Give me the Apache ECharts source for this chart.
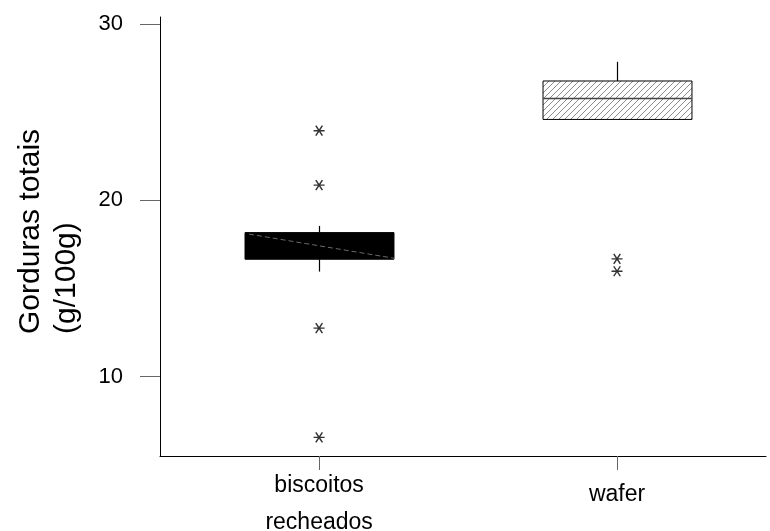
<!DOCTYPE html>
<html>
<head>
<meta charset="utf-8">
<script src="https://cdn.jsdelivr.net/npm/echarts@6.0.0/dist/echarts.min.js"></script>
<style>
  html, body { margin: 0; padding: 0; background: #fff; }
  #chart { width: 770px; height: 531px; }
</style>
</head>
<body>
<div id="chart"></div>
<script>
// Total fat (g/100g) by product type
const categories = ['biscoitos\nrecheados', 'wafer'];
const whiskerLow  = [15.96, 24.59];
const quartile1   = [16.66, 24.59];
const medians     = [17.40, 25.78];
const quartile3   = [18.17, 26.77];
const whiskerHigh = [18.55, 27.86];
const outliersBiscoitos = [23.95, 20.86, 12.75, 6.56];
const outliersWafer     = [16.68, 15.98];
const yTicks = [10, 20, 30];

const FONT = '"Liberation Sans", Arial, Helvetica, sans-serif';
const BOX_HALF = 0.25; // half box width in axis units

// diagonal hatch tile for the wafer box
function hatchTile() {
  const c = document.createElement('canvas');
  c.width = 6; c.height = 6;
  const ctx = c.getContext('2d');
  ctx.fillStyle = '#ffffff';
  ctx.fillRect(0, 0, 6, 6);
  ctx.strokeStyle = '#8c8c8c';
  ctx.lineWidth = 1;
  ctx.beginPath();
  ctx.moveTo(0, 6); ctx.lineTo(6, 0);
  ctx.moveTo(-1, 1); ctx.lineTo(1, -1);
  ctx.moveTo(5, 7); ctx.lineTo(7, 5);
  ctx.stroke();
  return c;
}

const boxLooks = [
  { fill: '#000000', median: '#000000', diagonal: true },
  { fill: { image: hatchTile(), repeat: 'repeat' }, median: '#444444', diagonal: false }
];

const boxData = categories.map((c, i) =>
  [i + 1, whiskerLow[i], quartile1[i], medians[i], quartile3[i], whiskerHigh[i]]);

const outlierData = []
  .concat(outliersBiscoitos.map(v => [1, v]))
  .concat(outliersWafer.map(v => [2, v]));

function renderBox(params, api) {
  const i = params.dataIndex;
  const look = boxLooks[i];
  const x = api.value(0);
  const low = api.coord([x, api.value(1)]);
  const q1 = api.coord([x, api.value(2)]);
  const med = api.coord([x, api.value(3)]);
  const q3 = api.coord([x, api.value(4)]);
  const high = api.coord([x, api.value(5)]);
  const half = api.size([BOX_HALF, 0])[0];
  const cx = Math.round(q3[0]) + 0.5;
  const children = [];
  if (high[1] < q3[1] - 0.5) {
    children.push({ type: 'line', shape: { x1: cx, y1: q3[1], x2: cx, y2: high[1] },
      style: { stroke: '#000', lineWidth: 1.2 } });
  }
  if (low[1] > q1[1] + 0.5) {
    children.push({ type: 'line', shape: { x1: cx, y1: q1[1], x2: cx, y2: low[1] },
      style: { stroke: '#000', lineWidth: 1.2 } });
  }
  children.push({ type: 'rect',
    shape: { x: cx - half, y: q3[1], width: 2 * half, height: q1[1] - q3[1] },
    style: { fill: look.fill, stroke: '#000', lineWidth: 1 } });
  children.push({ type: 'line',
    shape: { x1: cx - half, y1: med[1], x2: cx + half, y2: med[1] },
    style: { stroke: look.median, lineWidth: 1.6 } });
  if (look.diagonal) {
    children.push({ type: 'line',
      shape: { x1: cx - half + 4, y1: q3[1] + 1.5, x2: cx + half, y2: q1[1] - 1 },
      style: { stroke: '#6a6a6a', lineWidth: 1, lineDash: [5, 3] } });
  }
  return { type: 'group', children };
}

const chart = echarts.init(document.getElementById('chart'), null, { renderer: 'canvas' });
chart.setOption({
  animation: false,
  backgroundColor: '#ffffff',
  grid: { left: 160, right: 4, top: 17, bottom: 75, containLabel: false, outerBoundsMode: 'none' },
  xAxis: {
    type: 'value',
    min: 0.466,
    max: 2.5,
    axisLine: { show: true, onZero: false, lineStyle: { color: '#000', width: 1 } },
    axisTick: { show: true, customValues: [1, 2], length: 14, lineStyle: { color: '#666', width: 1 } },
    axisLabel: {
      show: true,
      customValues: [1, 2],
      margin: 11,
      verticalAlign: 'top',
      formatter: v => {
        const name = categories[Math.round(v) - 1] || '';
        const tag = name.indexOf('\n') >= 0 ? 'b' : 'w';
        return name.split('\n').map(s => '{' + tag + '|' + s + '}').join('\n');
      },
      rich: {
        b: { fontSize: 23, lineHeight: 37, fontFamily: FONT, color: '#000' },
        w: { fontSize: 23, lineHeight: 56, fontFamily: FONT, color: '#000' }
      }
    },
    splitLine: { show: false }
  },
  yAxis: {
    type: 'value',
    min: 5.5,
    max: 30.4,
    axisLine: { show: true, onZero: false, lineStyle: { color: '#000', width: 1 } },
    axisTick: { show: true, customValues: yTicks, length: 20, lineStyle: { color: '#666', width: 1 } },
    axisLabel: { show: true, customValues: yTicks, margin: 37, fontSize: 22, fontFamily: FONT, color: '#000' },
    splitLine: { show: false }
  },
  graphic: [{
    type: 'text',
    x: 13,
    y: 334,
    rotation: Math.PI / 2,
    silent: true,
    style: {
      text: 'Gorduras totais\n(g/100g)',
      fontSize: 30,
      fontFamily: FONT,
      lineHeight: 36,
      fill: '#000',
      align: 'left',
      verticalAlign: 'top'
    }
  }],
  series: [
    {
      type: 'custom',
      renderItem: renderBox,
      encode: { x: 0, y: [1, 2, 3, 4, 5] },
      data: boxData,
      silent: true,
      z: 2
    },
    {
      type: 'scatter',
      data: outlierData,
      symbol: 'path://M0,5L10,5M2,0L8,10M8,0L2,10',
      symbolSize: [11, 10],
      itemStyle: { color: 'rgba(0,0,0,0)', borderColor: '#000', borderWidth: 1.4 },
      emphasis: { disabled: true },
      silent: true,
      z: 3
    }
  ]
});
</script>
</body>
</html>
